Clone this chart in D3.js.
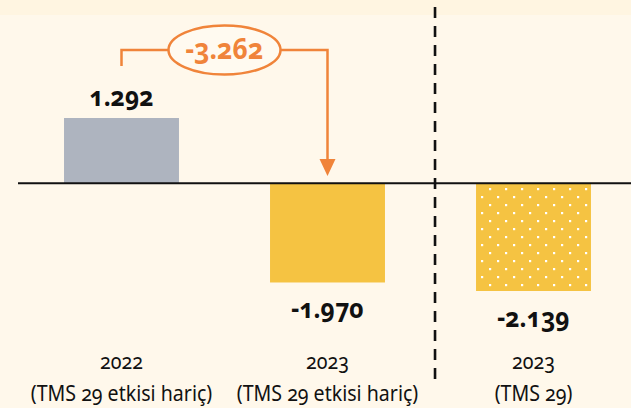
<!DOCTYPE html>
<html>
<head>
<meta charset="utf-8">
<script src="https://cdn.jsdelivr.net/npm/d3@7"></script>
<style>
  body { margin: 0; background: #fff8eb; }
  svg { display: block; }
  text { font-family: "Noto Sans", Lato, sans-serif; font-variant-numeric: oldstyle-nums; }
</style>
</head>
<body>
<svg width="631" height="408"></svg>
<script>
const categories = ["2022", "2023", "2023 TMS"];
const yearLabels = ["2022", "2023", "2023"];
const subLabels = ["(TMS 29 etkisi hariç)", "(TMS 29 etkisi hariç)", "(TMS 29)"];
const values = [1.292, -1.970, -2.139];
const valueLabels = ["1.292", "-1.970", "-2.139"];
const diffLabel = "-3.262";

const svg = d3.select("svg");
const W = 631, H = 408;

svg.append("rect").attr("width", W).attr("height", H).attr("fill", "#fff8eb");
svg.append("rect").attr("width", W).attr("height", 15).attr("fill", "#fff5e1");

const x = d3.scaleBand().domain(categories)
  .range([18.5, 636.5]).paddingInner(0.442).paddingOuter(0.221);
const y = d3.scaleLinear().domain([-2.139, 1.292]).range([291, 118]);

// dotted pattern for the last bar
const defs = svg.append("defs");
const pat = defs.append("pattern").attr("id", "dots")
  .attr("patternUnits", "userSpaceOnUse").attr("width", 16).attr("height", 16);
pat.append("rect").attr("width", 16).attr("height", 16).attr("fill", "#f5c342");
pat.append("rect").attr("x", 9).attr("y", 12).attr("width", 2.2).attr("height", 2.2).attr("fill", "#fff");
pat.append("rect").attr("x", 1).attr("y", 4).attr("width", 2.2).attr("height", 2.2).attr("fill", "#fff");

const fills = ["#aeb4bf", "#f5c342", "url(#dots)"];

svg.selectAll("rect.bar").data(values).enter().append("rect")
  .attr("class", "bar")
  .attr("x", (d, i) => x(categories[i]))
  .attr("width", x.bandwidth())
  .attr("y", d => y(Math.max(0, d)))
  .attr("height", d => Math.abs(y(d) - y(0)))
  .attr("fill", (d, i) => fills[i]);

// baseline
svg.append("line").attr("x1", 18).attr("x2", W).attr("y1", y(0)).attr("y2", y(0))
  .attr("stroke", "#111").attr("stroke-width", 2);

// value labels
const cx = i => x(categories[i]) + x.bandwidth() / 2;
svg.selectAll("text.val").data(values).enter().append("text")
  .attr("class", "val")
  .attr("transform", (d, i) => `translate(${cx(i)},${d >= 0 ? y(d) - 12 : y(d) + 36}) scale(0.95,1)`)
  .attr("text-anchor", "middle")
  .attr("font-size", 26).attr("font-weight", "bold").attr("fill", "#111")
  .text((d, i) => valueLabels[i]);

// category labels
categories.forEach((c, i) => {
  svg.append("text").attr("transform", `translate(${cx(i)},369) scale(0.89,1)`)
    .attr("text-anchor", "middle")
    .attr("font-size", 22).attr("fill", "#111").text(yearLabels[i]);
  svg.append("text").attr("transform", `translate(${cx(i)},401) scale(0.89,1)`)
    .attr("text-anchor", "middle")
    .attr("font-size", 22).attr("fill", "#111").text(subLabels[i]);
});

// dashed separator
const sepX = x(categories[2]) - 41;
svg.append("line").attr("x1", sepX).attr("x2", sepX).attr("y1", 7).attr("y2", 382)
  .attr("stroke", "#111").attr("stroke-width", 2.6).attr("stroke-dasharray", "11,8");

// difference annotation
const orange = "#f0843a";
const ax0 = cx(0), ax1 = cx(1), ay = 50;
const mid = (ax0 + ax1) / 2;
svg.append("path")
  .attr("d", `M${ax0},66 V${ay} H${ax1} V160`)
  .attr("fill", "none").attr("stroke", orange).attr("stroke-width", 2.5);
svg.append("path")
  .attr("d", `M${ax1 - 8},159 L${ax1 + 8},159 L${ax1},176 Z`)
  .attr("fill", orange);
svg.append("ellipse").attr("cx", mid).attr("cy", ay).attr("rx", 56).attr("ry", 24.5)
  .attr("fill", "#fffaf0").attr("stroke", orange).attr("stroke-width", 2.5);
svg.append("text").attr("transform", `translate(${mid},${ay + 9}) scale(0.95,1)`)
  .attr("text-anchor", "middle")
  .attr("font-size", 28).attr("font-weight", "bold").attr("fill", orange)
  .text(diffLabel);
</script>
</body>
</html>
